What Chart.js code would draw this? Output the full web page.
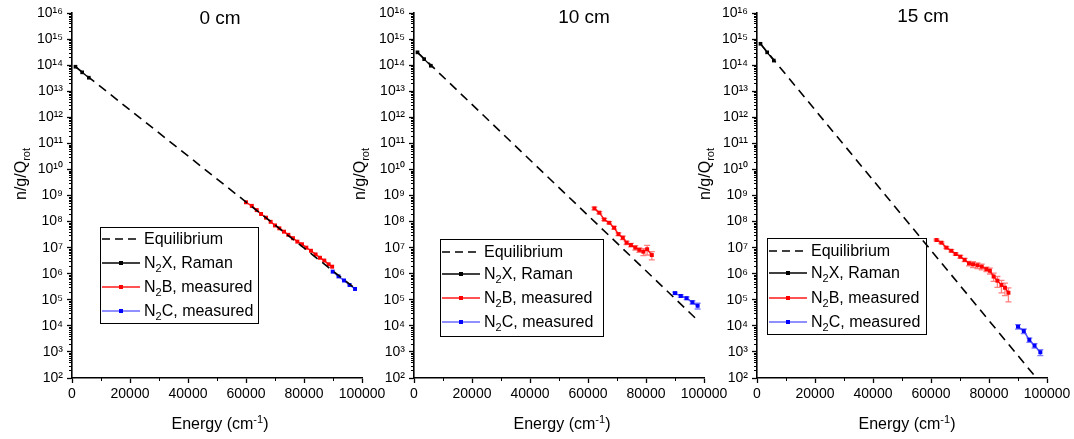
<!DOCTYPE html>
<html>
<head>
<meta charset="utf-8">
<script src="https://cdn.jsdelivr.net/npm/chart.js@4.4.1/dist/chart.umd.min.js"></script>
<style>
  body { margin: 0; background: #fff; font-family: "Liberation Sans", Arial, sans-serif; }
  #wrap { position: relative; width: 1074px; height: 439px; overflow: hidden; }
  canvas { position: absolute; top: 0; }
  .ttl { position: absolute; font-size: 19px; transform: translate(-50%, -50%); white-space: nowrap; }
  .ylab { position: absolute; font-size: 16px; white-space: nowrap; transform: translate(-50%, -50%) rotate(-90deg); }
  .xlab { position: absolute; font-size: 16px; white-space: nowrap; transform: translate(-50%, -50%); }
  .leg { position: absolute; border: 1.3px solid #000; font-size: 16px; box-sizing: border-box; }
  .row { position: absolute; left: 0; height: 20px; margin-top: -10px; display: flex; align-items: center; white-space: nowrap; }
  .row svg { margin-left: 1px; margin-right: 4px; }
  sub { font-size: 11px; vertical-align: -4px; line-height: 0; }
  sup { font-size: 11px; vertical-align: 6px; line-height: 0; }
</style>
</head>
<body>
<div id="wrap">
  <canvas id="c0" width="390" height="439" style="left:0px"></canvas>
  <canvas id="c1" width="390" height="439" style="left:340px"></canvas>
  <canvas id="c2" width="390" height="439" style="left:683px"></canvas>
</div>
<script>
// axis ticks
const yTickExponents = [2, 3, 4, 5, 6, 7, 8, 9, 10, 11, 12, 13, 14, 15, 16];
const xTickValues = [0, 20000, 40000, 60000, 80000, 100000];
const xMinorValues = [10000, 30000, 50000, 70000, 90000];

const panelTitles = ["0 cm", "10 cm", "15 cm"];
const legendLabels = ["Equilibrium", "N<sub>2</sub>X, Raman", "N<sub>2</sub>B, measured", "N<sub>2</sub>C, measured"];

// N2X levels (Raman)
const xEnergy = [1200, 3500, 5800];

// 0 cm
const eqEnergy0 = [1200, 98000];
const eqPop0 = [8.7e13, 2.5e5];
const xPop0 = [8.7e13, 5.3e13, 3.3e13];
const bEnergy0 = [60000, 62000, 63700, 65200, 66900, 68500, 70000, 71500, 73100, 74600,
                  76200, 77700, 79300, 80800, 82400, 84000, 85500, 87000, 88500, 89700];
const bPop0 = [5.5e8, 4.0e8, 2.75e8, 1.95e8, 1.41e8, 9.8e7, 7.1e7, 5.5e7, 4.1e7, 3.1e7,
               2.3e7, 1.7e7, 1.35e7, 1.0e7, 7.6e6, 5.5e6, 4.1e6, 3.2e6, 2.3e6, 1.86e6];
const cEnergy0 = [89900, 91900, 93800, 95700, 97600];
const cPop0 = [1.2e6, 7.9e5, 5.5e5, 3.7e5, 2.6e5];

// 10 cm
const eqEnergy1 = [1200, 97000];
const eqPop1 = [3.1e14, 2.0e4];
const xPop1 = [3.1e14, 1.7e14, 9.5e13];
const bEnergy1 = [62200, 63900, 65600, 67300, 69000, 70500, 72000, 73300, 74800, 76300,
                  77700, 79100, 80400, 82000];
const bPop1 = [3.2e8, 2.2e8, 1.2e8, 9.0e7, 5.8e7, 3.3e7, 2.4e7, 1.55e7, 1.26e7, 1.0e7,
               8.2e6, 7.0e6, 8.7e6, 5.2e6];
const bErr1 = [0.12, 0.1, 0.1, 0.1, 0.12, 0.12, 0.15, 0.15, 0.15, 0.2, 0.2, 0.3, 0.4, 0.35];
const cEnergy1 = [90000, 92000, 94000, 96000, 97800];
const cPop1 = [1.8e5, 1.4e5, 1.15e5, 8.0e4, 5.9e4];
const cErr1 = [0.1, 0.1, 0.12, 0.15, 0.25];

// 15 cm
const eqEnergy2 = [1200, 95500];
const eqPop2 = [6.6e14, 1.3e2];
const xPop2 = [6.6e14, 3.1e14, 1.5e14];
const bEnergy2 = [61900, 63600, 65300, 67000, 68500, 70100, 71600, 73100, 74500, 76000,
                  77500, 79100, 80300, 81600, 82900, 84300, 85500, 86700];
const bPop2 = [1.96e7, 1.55e7, 1.0e7, 7.6e6, 5.7e6, 4.5e6, 3.4e6, 2.5e6, 2.3e6, 2.1e6,
               1.86e6, 1.5e6, 1.3e6, 7.8e5, 5.4e5, 3.7e5, 2.9e5, 1.86e5];
const bErr2 = [0.08, 0.08, 0.08, 0.1, 0.1, 0.12, 0.15, 0.2, 0.25, 0.25,
               0.25, 0.2, 0.25, 0.35, 0.45, 0.5, 0.5, 0.55];
const cEnergy2 = [90000, 92000, 93900, 95700, 97700];
const cPop2 = [9.3e3, 6.3e3, 2.9e3, 1.74e3, 9.7e2];
const cErr2 = [0.2, 0.2, 0.2, 0.2, 0.25];

const FONT = "'Liberation Sans', Arial, sans-serif";
const SUP = "⁰¹²³⁴⁵⁶⁷⁸⁹";

function pts(xs, ys) {
  return xs.map((x, i) => ({ x, y: ys[i] }));
}

// error bars + minor ticks
const extras = {
  id: "extras",
  beforeDatasetsDraw(chart) {
    const ctx = chart.ctx;
    const yScale = chart.scales.y;
    chart.data.datasets.forEach((ds, i) => {
      if (!ds.errors) return;
      const meta = chart.getDatasetMeta(i);
      ctx.save();
      ctx.strokeStyle = ds.errorColor;
      ctx.lineWidth = 1.3;
      ctx.beginPath();
      meta.data.forEach((pt, j) => {
        const v = ds.data[j].y;
        const e = ds.errors[j] * v;
        const top = yScale.getPixelForValue(v + e);
        const bot = yScale.getPixelForValue(v - e);
        ctx.moveTo(pt.x, top); ctx.lineTo(pt.x, bot);
        ctx.moveTo(pt.x - 3, top); ctx.lineTo(pt.x + 3, top);
        ctx.moveTo(pt.x - 3, bot); ctx.lineTo(pt.x + 3, bot);
      });
      ctx.stroke();
      ctx.restore();
    });
  },
  afterDraw(chart) {
    const { ctx, chartArea, scales } = chart;
    ctx.save();
    ctx.strokeStyle = "#000";
    ctx.lineWidth = 1;
    ctx.beginPath();
    xMinorValues.forEach(v => {
      const px = Math.round(scales.x.getPixelForValue(v)) + 0.5;
      ctx.moveTo(px, chartArea.bottom);
      ctx.lineTo(px, chartArea.bottom + 3);
    });
    yTickExponents.slice(0, -1).forEach(e => {
      for (let m = 2; m <= 9; m++) {
        const py = Math.round(scales.y.getPixelForValue(m * Math.pow(10, e))) + 0.5;
        ctx.moveTo(chartArea.left - 3, py);
        ctx.lineTo(chartArea.left, py);
      }
    });
    ctx.stroke();
    ctx.restore();
  }
};

function buildPanel(id, s, lay) {
  const ctx = document.getElementById(id).getContext("2d");
  return new Chart(ctx, {
    type: "scatter",
    data: {
      datasets: [
        { label: "Equilibrium", data: pts(s.eqE, s.eqP), showLine: true,
          borderColor: "#000", borderWidth: 1.6, borderDash: [9, 6], pointRadius: 0 },
        { label: "N2X, Raman", data: pts(xEnergy, s.xP), showLine: true,
          borderColor: "#000", backgroundColor: "#000", borderWidth: 1.3,
          pointStyle: "rect", pointRadius: 2.6, pointBorderWidth: 0 },
        { label: "N2B, measured", data: pts(s.bE, s.bP), showLine: true,
          errors: s.bErr, errorColor: "rgba(255,40,40,0.6)",
          borderColor: "#ff1a1a", backgroundColor: "#ff0000", borderWidth: 1.5,
          pointStyle: "rect", pointRadius: 2.8, pointBorderWidth: 0 },
        { label: "N2C, measured", data: pts(s.cE, s.cP), showLine: true,
          errors: s.cErr, errorColor: "rgba(40,40,255,0.6)",
          borderColor: "#4a4aff", backgroundColor: "#0000ff", borderWidth: 1.5,
          pointStyle: "rect", pointRadius: 2.8, pointBorderWidth: 0 }
      ]
    },
    options: {
      responsive: false,
      animation: false,
      layout: { padding: { left: 0, right: lay.padRight, top: 13, bottom: 0 }, autoPadding: false },
      plugins: { legend: { display: false }, tooltip: { enabled: false } },
      scales: {
        x: {
          type: "linear", min: 0, max: 100000,
          afterBuildTicks: sc => { sc.ticks = xTickValues.map(v => ({ value: v })); },
          afterFit: sc => { sc.height = 61; sc.paddingLeft = 0; sc.paddingRight = 0; },
          grid: { drawOnChartArea: false, drawTicks: true, tickLength: 5, tickColor: "#000", tickWidth: 1.3 },
          border: { color: "#000", width: 1.6 },
          ticks: { color: "#000", font: { family: FONT, size: 14 }, padding: 3,
                   maxRotation: 0, autoSkip: false, callback: v => String(v) }
        },
        y: {
          type: "logarithmic", min: 1e2, max: 1e16,
          afterBuildTicks: sc => { sc.ticks = yTickExponents.map(e => ({ value: Math.pow(10, e) })); },
          afterFit: sc => { sc.width = lay.yWidth; sc.paddingTop = 0; sc.paddingBottom = 0; },
          grid: { drawOnChartArea: false, drawTicks: true, tickLength: 5, tickColor: "#000", tickWidth: 1.3 },
          border: { color: "#000", width: 1.6 },
          ticks: { color: "#000", font: { family: FONT, size: 14 }, padding: 4, autoSkip: false,
                   callback: v => "10" + String(Math.round(Math.log10(v))).split("").map(d => SUP[+d]).join("") }
        }
      }
    },
    plugins: [extras]
  });
}

const layouts = [
  { canvas: "c0", padRight: 28, yWidth: 72, title: [220, 18], ylab: [21, 174], xlab: [220, 424],
    legend: { left: 100, top: 227, width: 159, height: 97, rows: [11, 35, 59, 83] } },
  { canvas: "c1", padRight: 26, yWidth: 74, title: [584, 17], ylab: [360, 174], xlab: [562, 424],
    legend: { left: 440, top: 239, width: 164, height: 98, rows: [12, 34, 58, 82] } },
  { canvas: "c2", padRight: 26, yWidth: 74, title: [923, 16], ylab: [705, 174], xlab: [907, 424],
    legend: { left: 767, top: 238, width: 160, height: 97, rows: [12, 34, 59, 83] } }
];

const series = [
  { eqE: eqEnergy0, eqP: eqPop0, xP: xPop0, bE: bEnergy0, bP: bPop0, bErr: null, cE: cEnergy0, cP: cPop0, cErr: null },
  { eqE: eqEnergy1, eqP: eqPop1, xP: xPop1, bE: bEnergy1, bP: bPop1, bErr: bErr1, cE: cEnergy1, cP: cPop1, cErr: cErr1 },
  { eqE: eqEnergy2, eqP: eqPop2, xP: xPop2, bE: bEnergy2, bP: bPop2, bErr: bErr2, cE: cEnergy2, cP: cPop2, cErr: cErr2 }
];

// legend swatches: line colour, dash, marker colour
const swatches = [
  { line: "#000", dash: "8,5", mark: null },
  { line: "#000", dash: null, mark: "#000" },
  { line: "#ff1a1a", dash: null, mark: "#ff0000" },
  { line: "#6a6aff", dash: null, mark: "#0000ff" }
];

function swatchSvg(sw) {
  let s = '<svg width="38" height="10">';
  s += '<line x1="0" y1="5" x2="38" y2="5" stroke="' + sw.line + '" stroke-width="1.6"' +
       (sw.dash ? ' stroke-dasharray="' + sw.dash + '"' : '') + '/>';
  if (sw.mark) s += '<rect x="17" y="3" width="4" height="4" fill="' + sw.mark + '"/>';
  return s + '</svg>';
}

const wrap = document.getElementById("wrap");
function addText(cls, html, pos) {
  const d = document.createElement("div");
  d.className = cls;
  d.innerHTML = html;
  d.style.left = pos[0] + "px";
  d.style.top = pos[1] + "px";
  wrap.appendChild(d);
}

layouts.forEach((lay, i) => {
  buildPanel(lay.canvas, series[i], lay);
  addText("ttl", panelTitles[i], lay.title);
  addText("ylab", "n/g/Q<sub>rot</sub>", lay.ylab);
  addText("xlab", "Energy (cm<sup>-1</sup>)", lay.xlab);

  const lg = lay.legend;
  const box = document.createElement("div");
  box.className = "leg";
  box.style.left = lg.left + "px";
  box.style.top = lg.top + "px";
  box.style.width = lg.width + "px";
  box.style.height = lg.height + "px";
  legendLabels.forEach((lbl, k) => {
    const r = document.createElement("div");
    r.className = "row";
    r.style.top = lg.rows[k] + "px";
    r.innerHTML = swatchSvg(swatches[k]) + "<span>" + lbl + "</span>";
    box.appendChild(r);
  });
  wrap.appendChild(box);
});
</script>
</body>
</html>
